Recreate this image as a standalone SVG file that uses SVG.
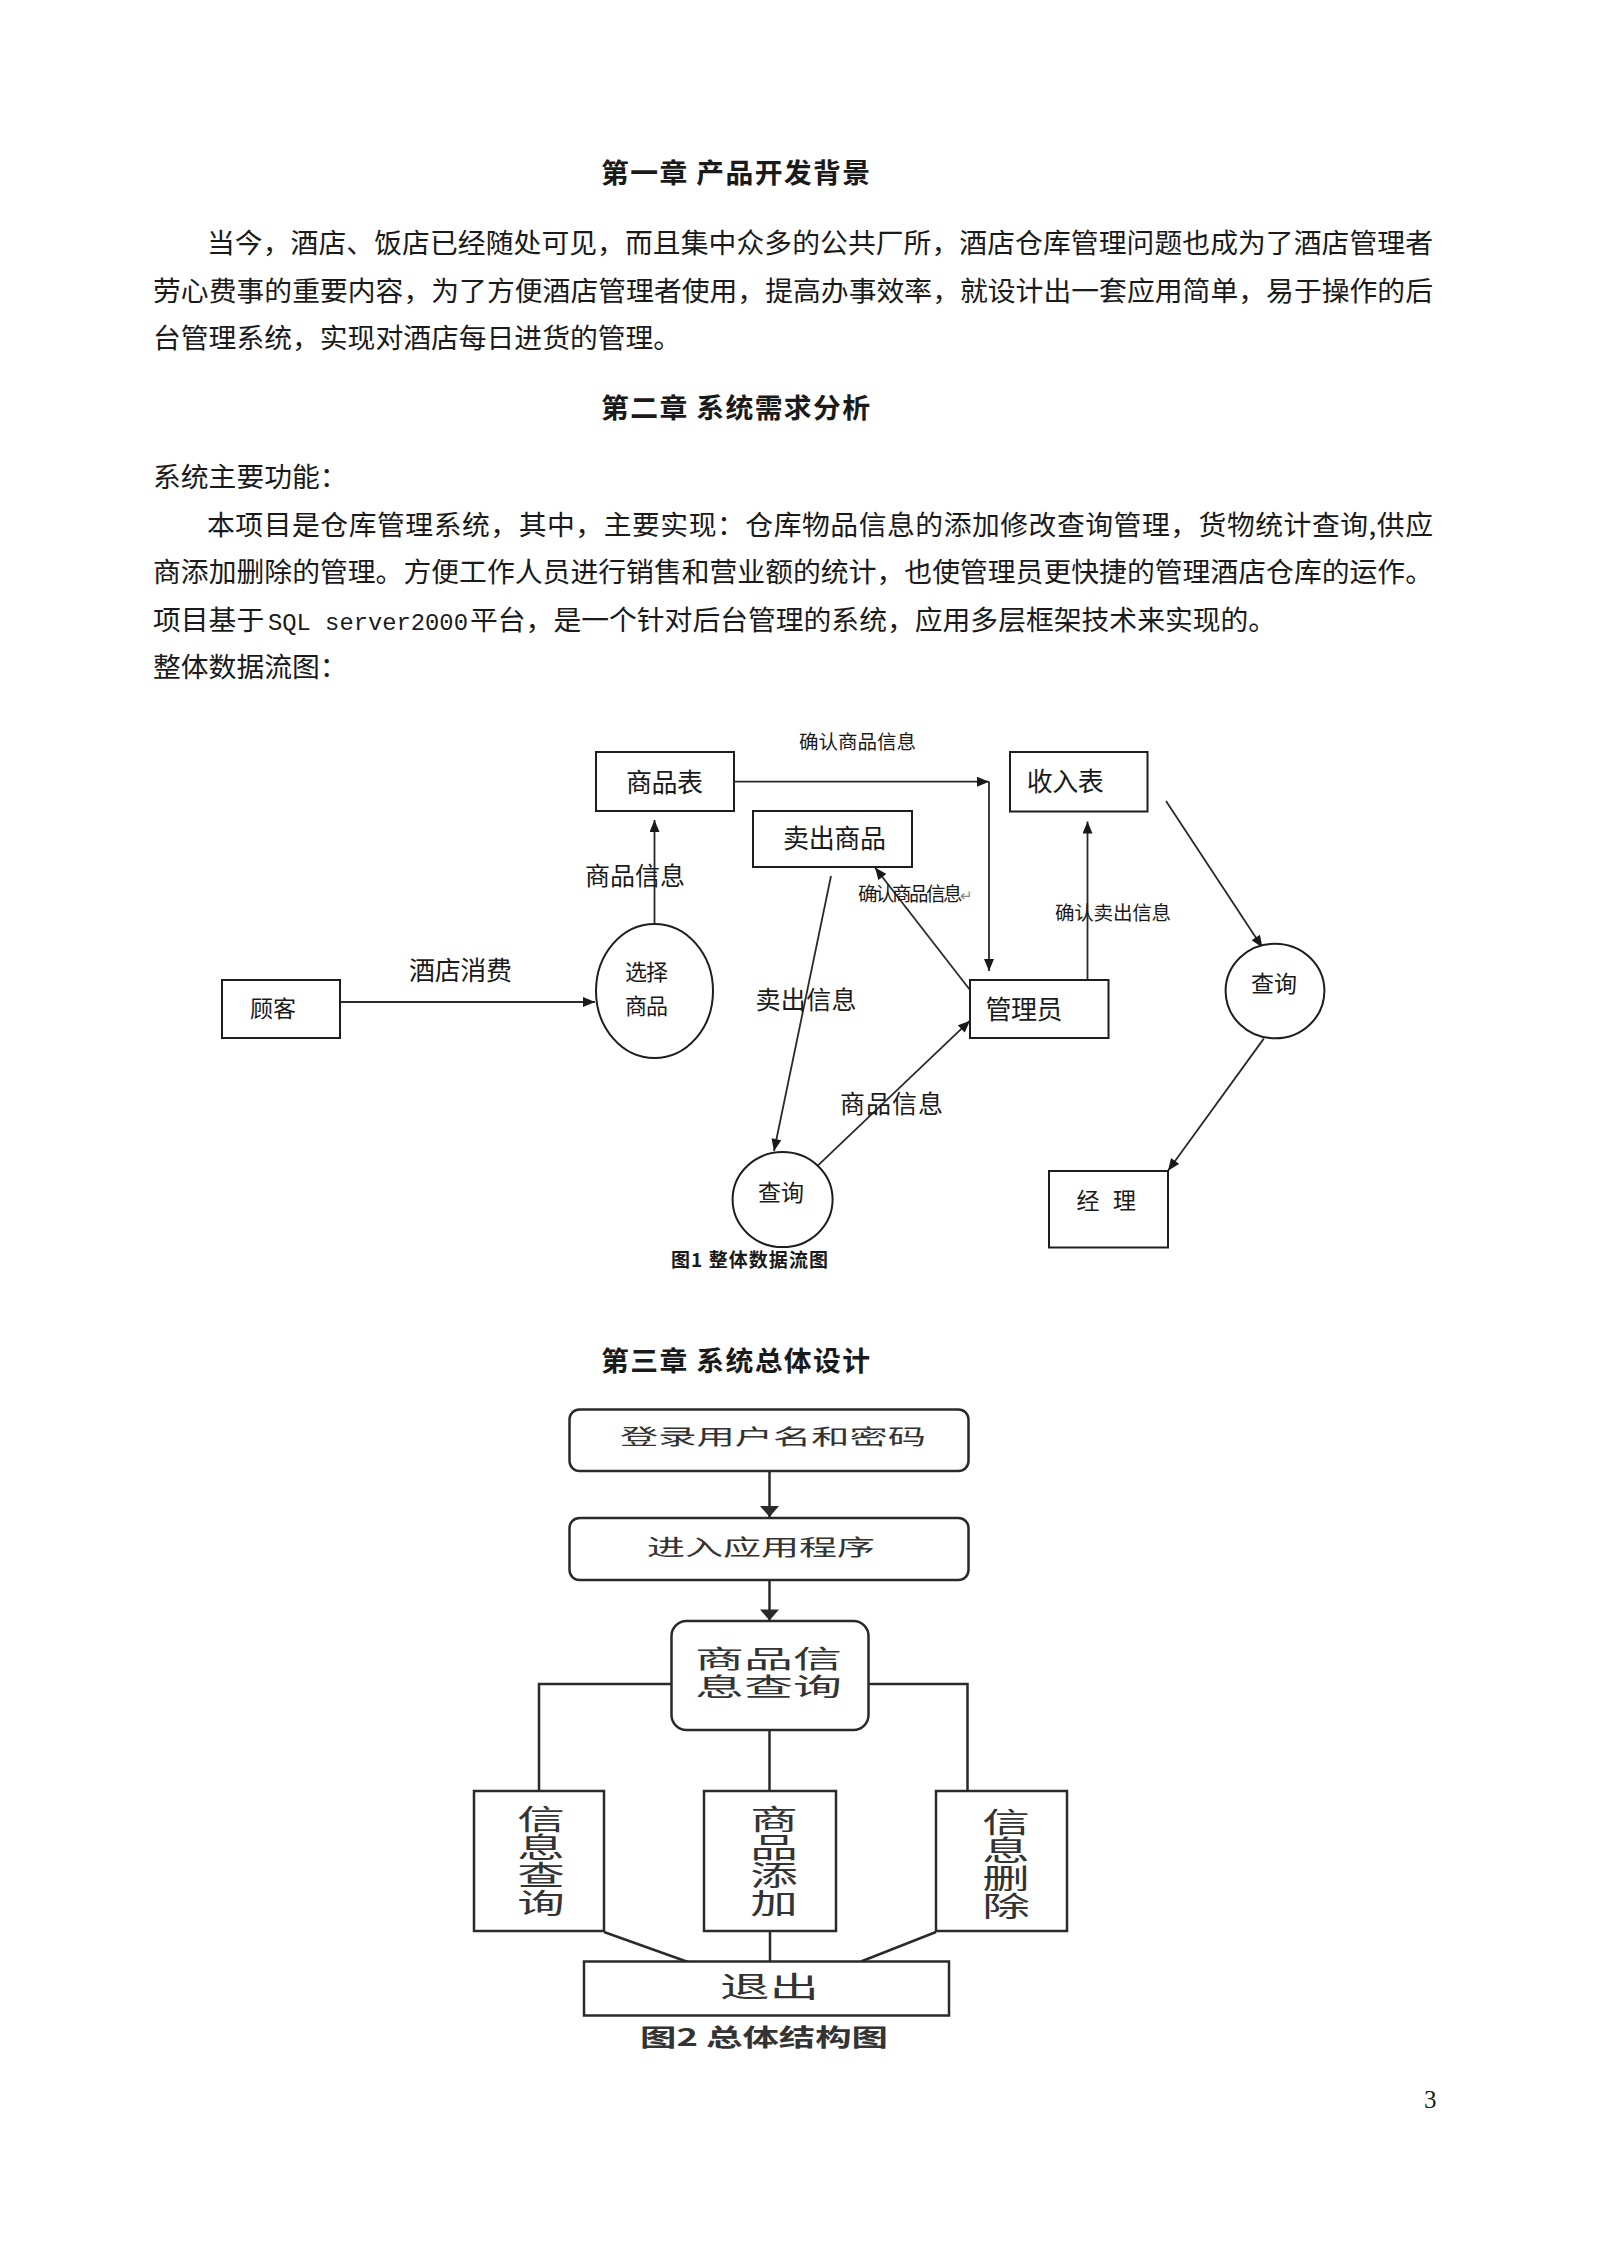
<svg xmlns="http://www.w3.org/2000/svg" width="1598" height="2246" viewBox="0 0 1598 2246">
<style>
text{font-family:"Noto Sans CJK SC","Noto Sans",sans-serif;fill:#1a1a1a}
.body{font-size:27.8px}
.title{font-size:27.8px;font-weight:bold}
.box{fill:#fff;stroke:#1e1e1e;stroke-width:2}
.ln{fill:none;stroke:#2a2a2a;stroke-width:1.8}
.lbl{font-size:25px}
.sm{font-size:19.5px}
.sbox{fill:#fff;stroke:#2a2a2a;stroke-width:2.5}
.sln{fill:none;stroke:#2a2a2a;stroke-width:2.5}
.st{fill:#333}
.vt{font-size:28px;fill:#333;writing-mode:vertical-rl}
</style>
<defs>
<marker id="ah" viewBox="0 0 12 10" refX="12" refY="5" markerWidth="13" markerHeight="10" markerUnits="userSpaceOnUse" orient="auto"><path d="M0,0 L12,5 L0,10 z" fill="#1a1a1a"/></marker>
<marker id="ah2" viewBox="0 0 11 19" refX="11" refY="9.5" markerWidth="12" markerHeight="19" markerUnits="userSpaceOnUse" orient="auto"><path d="M0,0 L11,9.5 L0,19 z" fill="#2a2a2a"/></marker>
</defs>
<rect width="1598" height="2246" fill="#fff"/>

<g id="page-text">
<text class="title" x="601" y="183.3" textLength="269">第一章 产品开发背景</text>
<text class="body" x="207" y="253.3" textLength="1226">当今，酒店、饭店已经随处可见，而且集中众多的公共厂所，酒店仓库管理问题也成为了酒店管理者</text>
<text class="body" x="153" y="300.8" textLength="1280">劳心费事的重要内容，为了方便酒店管理者使用，提高办事效率，就设计出一套应用简单，易于操作的后</text>
<text class="body" x="153" y="348.3">台管理系统，实现对酒店每日进货的管理。</text>
<text class="title" x="601" y="418.3" textLength="269">第二章 系统需求分析</text>
<text class="body" x="153" y="487.3">系统主要功能：</text>
<text class="body" x="207" y="534.8" textLength="1226">本项目是仓库管理系统，其中，主要实现：仓库物品信息的添加修改查询管理，货物统计查询,供应</text>
<text class="body" x="153" y="582.3" textLength="1280">商添加删除的管理。方便工作人员进行销售和营业额的统计，也使管理员更快捷的管理酒店仓库的运作。</text>
<text class="body" y="629.8"><tspan x="153">项目基于 </tspan><tspan x="268" font-family="Liberation Mono, monospace" font-size="23.8">SQL server2000 </tspan><tspan x="470">平台，是一个针对后台管理的系统，应用多层框架技术来实现的。</tspan></text>
<text class="body" x="153" y="677.3">整体数据流图：</text>
<text class="title" x="601" y="1371.3" textLength="269">第三章 系统总体设计</text>
<text x="1424" y="2108" style="font-family:'Liberation Serif',serif;font-size:25px">3</text>
</g>

<g id="flow-connectors">
<line class="ln" x1="340" y1="1002" x2="595" y2="1002" marker-end="url(#ah)"/>
<line class="ln" x1="654.5" y1="924" x2="654.5" y2="820" marker-end="url(#ah)"/>
<line class="ln" x1="734" y1="781.7" x2="989" y2="781.7" marker-end="url(#ah)"/>
<line class="ln" x1="989" y1="781.7" x2="989" y2="971" marker-end="url(#ah)"/>
<line class="ln" x1="831" y1="876" x2="774" y2="1151" marker-end="url(#ah)"/>
<line class="ln" x1="970" y1="990" x2="875" y2="867.5" marker-end="url(#ah)"/>
<line class="ln" x1="1087.5" y1="980" x2="1087.5" y2="821.5" marker-end="url(#ah)"/>
<line class="ln" x1="1166" y1="801" x2="1262.4" y2="947.5" marker-end="url(#ah)"/>
<line class="ln" x1="1263.8" y1="1038.6" x2="1168" y2="1170.7" marker-end="url(#ah)"/>
<line class="ln" x1="812.5" y1="1170.7" x2="970" y2="1020.7" marker-end="url(#ah)"/>
<text class="sm" x="799" y="749" textLength="117">确认商品信息</text>
<text class="lbl" x="585" y="885" textLength="100">商品信息</text>
<text style="font-size:26px" x="409" y="980" textLength="103">酒店消费</text>
<text class="sm" x="858" y="901" textLength="115">确认商品信息<tspan style="font-size:15px;fill:#888">↵</tspan></text>
<text class="sm" x="1055" y="919.7" textLength="116">确认卖出信息</text>
<text class="lbl" x="755.5" y="1009.3" textLength="101">卖出信息</text>
<text class="lbl" x="840" y="1112.8" textLength="103">商品信息</text>
</g>

<g id="n-goods-table">
<rect class="box" x="596" y="752" width="138" height="59"/>
<text style="font-size:26px" x="626" y="792" textLength="77">商品表</text>
</g>
<g id="n-sold-goods">
<rect class="box" x="753" y="811" width="159" height="56"/>
<text style="font-size:26px" x="783" y="848" textLength="103">卖出商品</text>
</g>
<g id="n-income-table">
<rect class="box" x="1010" y="752" width="137.5" height="59.5"/>
<text style="font-size:26px" x="1026.7" y="791" textLength="77">收入表</text>
</g>
<g id="n-customer">
<rect class="box" x="222" y="980" width="118" height="58"/>
<text style="font-size:23px" x="250" y="1017" textLength="46">顾客</text>
</g>
<g id="n-admin">
<rect class="box" x="970" y="980" width="138.5" height="58"/>
<text style="font-size:26px" x="985.6" y="1018.6" textLength="77">管理员</text>
</g>
<g id="n-manager">
<rect class="box" x="1049" y="1171" width="119" height="76.5"/>
<text style="font-size:23px" x="1076.5" y="1208.5" textLength="59.5">经 理</text>
</g>
<g id="n-select">
<ellipse class="box" cx="654.5" cy="991" rx="58.5" ry="67"/>
<text style="font-size:22px"><tspan x="625" y="980" textLength="43">选择</tspan><tspan x="625" y="1014" textLength="43">商品</tspan></text>
</g>
<g id="n-query1">
<ellipse class="box" cx="782.6" cy="1199.6" rx="50" ry="47.5"/>
<text style="font-size:23px" x="758" y="1200.5" textLength="46">查询</text>
</g>
<g id="n-query2">
<ellipse class="box" cx="1275" cy="991" rx="49.4" ry="47.3"/>
<text style="font-size:23px" x="1251" y="991.5" textLength="46">查询</text>
</g>
<text id="cap1" x="671" y="1266.5" textLength="157" style="font-size:19px;font-weight:bold">图1 整体数据流图</text>

<g id="struct-connectors">
<line class="sln" x1="769.5" y1="1471" x2="769.5" y2="1517" marker-end="url(#ah2)"/>
<line class="sln" x1="769.5" y1="1580" x2="769.5" y2="1620.5" marker-end="url(#ah2)"/>
<polyline class="sln" points="671.5,1684 539,1684 539,1791"/>
<polyline class="sln" points="868.5,1684 967.5,1684 967.5,1791"/>
<line class="sln" x1="769.5" y1="1730" x2="769.5" y2="1791"/>
<line class="sln" x1="604" y1="1932" x2="688" y2="1962"/>
<line class="sln" x1="770" y1="1931" x2="770" y2="1961.5"/>
<line class="sln" x1="936" y1="1932" x2="861" y2="1961.5"/>
</g>
<g id="s-login">
<rect class="sbox" x="569.5" y="1409.5" width="399" height="61.5" rx="10"/>
<text class="st" style="font-size:21px" x="620" y="1443.5" textLength="306" lengthAdjust="spacingAndGlyphs">登录用户名和密码</text>
</g>
<g id="s-enter">
<rect class="sbox" x="569.5" y="1518" width="399" height="62" rx="10"/>
<text class="st" style="font-size:22px" x="647" y="1555" textLength="228" lengthAdjust="spacingAndGlyphs">进入应用程序</text>
</g>
<g id="s-goods-query">
<rect class="sbox" x="671.5" y="1621" width="197" height="109" rx="15"/>
<text class="st" style="font-size:25px"><tspan x="695" y="1668" textLength="147" lengthAdjust="spacingAndGlyphs">商品信</tspan><tspan x="695" y="1696" textLength="147" lengthAdjust="spacingAndGlyphs">息查询</tspan></text>
</g>
<g id="s-info-query">
<rect class="sbox" x="474" y="1791" width="130" height="140"/>
<text class="vt" transform="translate(541,0) scale(1.7,1)" x="0" y="1805">信息查询</text>
</g>
<g id="s-goods-add">
<rect class="sbox" x="704" y="1791" width="132" height="140"/>
<text class="vt" transform="translate(774,0) scale(1.7,1)" x="0" y="1805">商品添加</text>
</g>
<g id="s-info-del">
<rect class="sbox" x="936" y="1791" width="131" height="140"/>
<text class="vt" transform="translate(1006,0) scale(1.7,1)" x="0" y="1808">信息删除</text>
</g>
<g id="s-exit">
<rect class="sbox" x="584" y="1961.5" width="365" height="54"/>
<text class="st" style="font-size:29px" x="720" y="1998" textLength="99" lengthAdjust="spacingAndGlyphs">退出</text>
</g>
<text id="cap2" x="640" y="2046" textLength="248" lengthAdjust="spacingAndGlyphs" style="font-size:24px;font-weight:bold;fill:#333">图2 总体结构图</text>
</svg>
